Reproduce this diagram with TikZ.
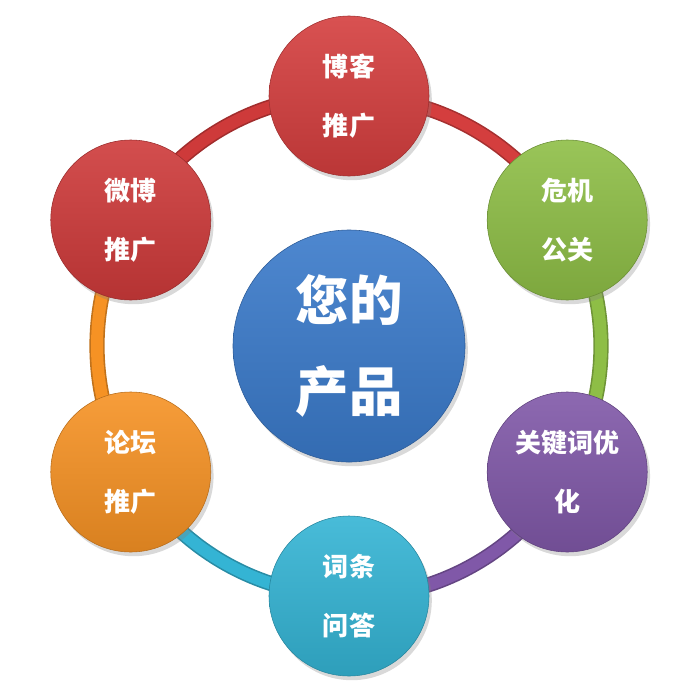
\documentclass[tikz,border=0pt]{standalone}
\usepackage{fontspec}
\newfontfamily\cjk{Noto Sans CJK SC}
\usetikzlibrary{shadows, backgrounds}
\definecolor{blogred}{RGB}{212, 62, 62}
\definecolor{weiboRed}{RGB}{206, 58, 58}
\definecolor{crisisgreen}{RGB}{142, 190, 70}
\definecolor{seopurple}{RGB}{128, 88, 168}
\definecolor{qacyan}{RGB}{52, 180, 212}
\definecolor{forumorange}{RGB}{246, 146, 36}
\definecolor{hubblue}{RGB}{58, 122, 202}

\begin{document}
\begin{tikzpicture}[
  spot/.style={circle, minimum size=4cm, inner sep=0pt, align=center, text=white,
    top color=#1!90!white, bottom color=#1!88!black, draw=#1!75!black, thin,
    drop shadow={opacity=0.3, shadow xshift=2pt, shadow yshift=-3pt},
    font=\cjk\bfseries\fontsize{18.5}{42}\selectfont},
  hub/.style={spot=hubblue, minimum size=5.8cm, font=\cjk\bfseries\fontsize{38}{65}\selectfont},
  rim/.style={draw=#1!78!black, line width=0.38cm, postaction={draw=#1, line width=0.3cm}},
]
  \useasboundingbox (-8.725,-8.75) rectangle (8.775,8.65);
  \node[hub] (product) at (0,0) {您的\\产品};
  \node[spot=blogred] (blog) at (90:6.25) {博客\\推广};
  \node[spot=crisisgreen] (crisis) at (30:6.3) {危机\\公关};
  \node[spot=seopurple] (seo) at (-30:6.3) {关键词优\\化};
  \node[spot=qacyan] (qa) at (-90:6.25) {词条\\问答};
  \node[spot=forumorange] (forum) at (-150:6.3) {论坛\\推广};
  \node[spot=weiboRed] (weibo) at (150:6.3) {微博\\推广};
  % ring behind the circles, each piece takes the colour of the circle it leaves
  \begin{pgfonlayer}{background}
    \draw[rim=blogred] (blog.center) arc[start angle=90, end angle=30, radius=6.27cm];
    \draw[rim=crisisgreen] (crisis.center) arc[start angle=30, end angle=-30, radius=6.3cm];
    \draw[rim=seopurple] (seo.center) arc[start angle=-30, end angle=-90, radius=6.27cm];
    \draw[rim=qacyan] (qa.center) arc[start angle=-90, end angle=-150, radius=6.27cm];
    \draw[rim=forumorange] (forum.center) arc[start angle=-150, end angle=-210, radius=6.3cm];
    \draw[rim=weiboRed] (weibo.center) arc[start angle=150, end angle=90, radius=6.27cm];
  \end{pgfonlayer}
\end{tikzpicture}
\end{document}
